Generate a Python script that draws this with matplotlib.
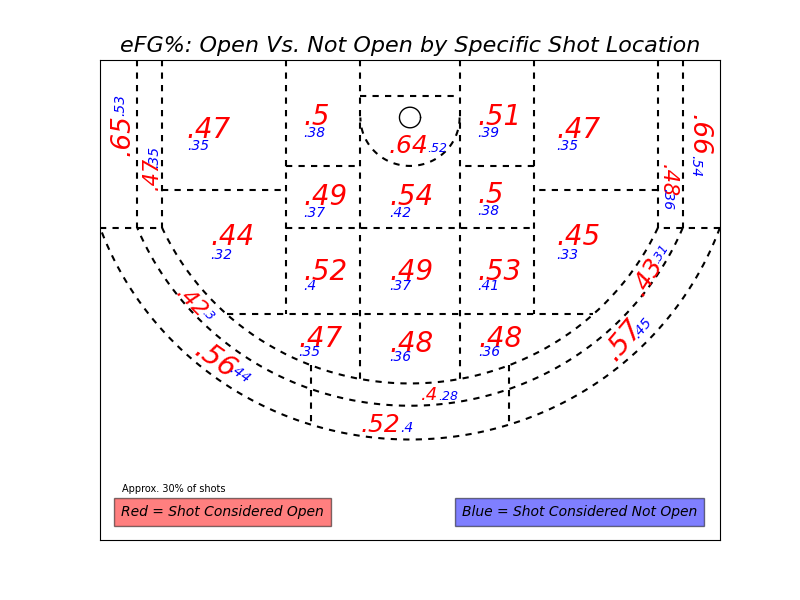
import numpy as np
import matplotlib
matplotlib.use("Agg")
import matplotlib.pyplot as plt

# ── eFG% per zone: open shots (red) vs not open (blue) ────────
ZONES = ["corner3_L", "corner2_L", "wing_top_L", "elbow_top_L", "elbow_L",
         "restricted", "paint", "elbow_top_R", "elbow_R", "wing_top_R",
         "corner2_R", "corner3_R", "wing_mid_L", "lane_L", "lane_C", "lane_R",
         "wing_mid_R", "long_L", "long_C", "long_R",
         "arc2_L", "arc3_L", "arc2_C", "arc3_C", "arc2_R", "arc3_R"]
OPEN = [.65, .47, .47, .5, .49, .64, .54, .51, .5, .47, .48, .66,
        .44, .52, .49, .53, .45, .47, .48, .48,
        .42, .56, .4, .52, .43, .57]
NOT_OPEN = [.53, .35, .35, .38, .37, .52, .42, .39, .38, .35, .36, .54,
            .32, .4, .37, .41, .33, .35, .36, .36,
            .3, .44, .28, .4, .31, .45]

# label layout: (red x, red y, blue x, blue y, red size, blue size)
FLAT = {
    "wing_top_L":  (-180, 17, -180, 27, 20, 10),
    "elbow_top_L": (-86, 6, -86, 16, 20, 10),
    "elbow_L":     (-86, 72, -86, 82, 20, 10),
    "restricted":  (-17, 29, 14, 28.5, 18, 9),
    "paint":       (-17, 72, -17, 82, 20, 10),
    "elbow_top_R": (54, 6, 54, 16, 20, 10),
    "elbow_R":     (54, 70.5, 54, 80.5, 20, 10),
    "wing_top_R":  (118, 17, 118, 27, 20, 10),
    "wing_mid_L":  (-161, 105, -161, 117, 20, 10),
    "lane_L":      (-86, 134, -86, 142.5, 20, 10),
    "lane_C":      (-17, 134, -17, 142.5, 20, 10),
    "lane_R":      (54, 134, 54, 142.5, 20, 10),
    "wing_mid_R":  (118, 105, 118, 117, 20, 10),
    "long_L":      (-90, 189.5, -90, 197, 20, 10),
    "long_C":      (-17, 193.5, -17, 201, 20, 10),
    "long_R":      (55, 189.5, 55, 197, 20, 10),
    "arc2_C":      (9, 233.5, 23, 233.5, 13, 9),
    "arc3_C":      (-40, 260, -8, 260, 18, 10),
}
# rotated labels: (red x, red y, blue x, blue y, rotation, red size, blue size)
ROT = {
    "corner3_L": (-234.7, 14.5, -234.7, -10.3, 90, 19, 10),
    "corner2_L": (-209.7, 46, -207.3, 32.7, 90, 15, 10),
    "corner2_R": (209.7, 52.5, 209, 67.4, -90, 15, 10),
    "corner3_R": (234.7, 14.5, 231.5, 40, -90, 19, 10),
    "arc2_L":    (-175, 151.7, -162, 162.4, -45, 16, 9),
    "arc3_L":    (-155.6, 198, -137, 211, -35, 20, 10),
    "arc2_R":    (189.5, 130, 200.8, 112, 58, 18, 9),
    "arc3_R":    (170, 182, 186.3, 173, 50, 20, 10),
}


def fmt(v):
    return ("%g" % v).lstrip("0")


fig, ax = plt.subplots(figsize=(8, 6), dpi=100)
fig.subplots_adjust(left=0.125, right=0.9, bottom=0.1, top=0.9)
ax.set_xlim(-250, 250)
ax.set_ylim(349, -47.5)
ax.set_xticks([])
ax.set_yticks([])

LS = dict(color="black", linestyle=(0, (3, 3)), linewidth=1.5)


def seg(x0, y0, x1, y1):
    ax.plot([x0, x1], [y0, y1], **LS)


# ── court zones ───────────────────────────────────────────────
TOP, CORNER_Y = -47.5, 91
R_IN, R_MID, R_OUT = 219.7, 238.1, 266.0

for sx in (-1, 1):
    seg(sx * 220, TOP, sx * 220, CORNER_Y)
    seg(sx * 200, TOP, sx * 200, CORNER_Y)
    seg(sx * 250, CORNER_Y, sx * 200, CORNER_Y)
    seg(sx * 200, 60, sx * 100, 60)
    seg(sx * 100, TOP, sx * 100, 162.5)
    seg(sx * 100, 40, sx * 40, 40)
    seg(sx * 40, TOP, sx * 40, np.sqrt(R_IN ** 2 - 40 ** 2))
    seg(sx * 80, np.sqrt(R_IN ** 2 - 80 ** 2), sx * 80, np.sqrt(R_OUT ** 2 - 80 ** 2))

seg(-100, CORNER_Y, 100, CORNER_Y)
seg(-40, -17.5, 40, -17.5)
x_cut = np.sqrt(R_IN ** 2 - 162.5 ** 2)
seg(-x_cut, 162.5, x_cut, 162.5)

for r, xe in ((R_IN, 200), (R_MID, 220), (R_OUT, 250)):
    t0 = np.arctan2(CORNER_Y, xe)
    t = np.linspace(t0, np.pi - t0, 200)
    ax.plot(r * np.cos(t), r * np.sin(t), **LS)

t = np.linspace(0, np.pi, 100)
ax.plot(40 * np.cos(t), 40 * np.sin(t), **LS)
t = np.linspace(0, 2 * np.pi, 100)
ax.plot(8.5 * np.cos(t), 8.5 * np.sin(t), color="black", linewidth=1)

# ── labels ────────────────────────────────────────────────────
for z, o, n in zip(ZONES, OPEN, NOT_OPEN):
    if z in FLAT:
        rx, ry, bx, by, rfs, bfs = FLAT[z]
        ax.text(rx, ry, fmt(o), color="red", fontsize=rfs, style="italic",
                ha="left", va="baseline")
        ax.text(bx, by, fmt(n), color="blue", fontsize=bfs, style="italic",
                ha="left", va="baseline")
    else:
        rx, ry, bx, by, rot, rfs, bfs = ROT[z]
        ax.text(rx, ry, fmt(o), color="red", fontsize=rfs, style="italic",
                ha="center", va="center_baseline", rotation=rot,
                rotation_mode="anchor")
        ax.text(bx, by, fmt(n), color="blue", fontsize=bfs, style="italic",
                ha="center", va="center_baseline", rotation=rot,
                rotation_mode="anchor")

ax.text(-232, 309.5, "Approx. 30% of shots", fontsize=7)
ax.text(-233, 329.5, "Red = Shot Considered Open", fontsize=10, style="italic",
        bbox=dict(boxstyle="square,pad=0.5", facecolor="red", alpha=0.5))
ax.text(42, 329.5, "Blue = Shot Considered Not Open", fontsize=10, style="italic",
        bbox=dict(boxstyle="square,pad=0.5", facecolor="blue", alpha=0.5))

ax.set_title("eFG%: Open Vs. Not Open by Specific Shot Location",
             fontsize=16, style="italic")

plt.savefig("out.png", dpi=100)
